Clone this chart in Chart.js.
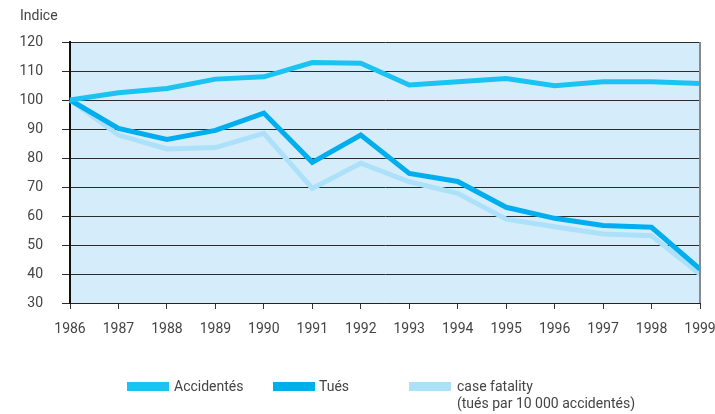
<style>
body { margin: 0; background: #fff; }
#wrap { position: relative; width: 715px; height: 414px; font-family: Roboto, "Open Sans", sans-serif; color: #444; }
#indice { position: absolute; left: 20px; top: 7px; font-size: 14px; }
.leg { position: absolute; font-size: 14px; line-height: 17px; }
.sw { position: absolute; width: 42px; height: 9px; }
</style>

<div id="wrap">
  <canvas id="myChart" width="715" height="414"></canvas>
  <div id="indice">Indice</div>
  <div id="legend"></div>
</div>

<script src="https://cdn.jsdelivr.net/npm/chart.js"></script>

<script>
const years = ['1986','1987','1988','1989','1990','1991','1992','1993','1994','1995','1996','1997','1998','1999'];
const accidentes = [100, 102.5, 104, 107.2, 108, 112.9, 112.7, 105.2, 106.3, 107.4, 104.9, 106.3, 106.3, 105.7];
const tues = [100, 90.2, 86.4, 89.5, 95.5, 78.5, 87.9, 74.7, 71.9, 63, 59.2, 56.7, 56.1, 41.7];
const caseFatality = [100, 87.9, 83.1, 83.6, 88.5, 69.5, 78.2, 71.8, 67.8, 58.9, 56.3, 53.8, 53.2, 40];
const legendNames = ['Accidentés', 'Tués', 'case fatality<br>(tués par 10 000 accidentés)'];
const colors = ['#1ac3f2', '#00aeef', '#ade1f9'];
const tickFont = { family: 'Roboto, "Open Sans", sans-serif', size: 14 };

// fill the plot area and draw the grey right border
const plotBg = {
  id: 'plotBg',
  beforeDraw(chart) {
    const a = chart.chartArea, c = chart.ctx;
    c.save();
    c.fillStyle = '#d5edfa';
    c.fillRect(a.left, a.top, a.right - a.left, a.bottom - a.top);
    c.restore();
  },
  afterDatasetsDraw(chart) {
    const a = chart.chartArea, c = chart.ctx;
    c.save();
    c.strokeStyle = '#8a8a8a';
    c.lineWidth = 2;
    c.beginPath();
    c.moveTo(a.right, a.top);
    c.lineTo(a.right, a.bottom);
    c.stroke();
    c.restore();
  }
};

const ctx = document.getElementById('myChart');
let chart = new Chart(ctx, {
  type: 'line',
  data: {
    labels: years,
    datasets: [
      { label: 'Accidentés', data: accidentes, borderColor: colors[0], order: 0 },
      { label: 'Tués', data: tues, borderColor: colors[1], order: 1 },
      { label: 'case fatality', data: caseFatality, borderColor: colors[2], order: 2 }
    ]
  },
  options: {
    responsive: false,
    animation: false,
    layout: { padding: { top: 42, right: 0, left: 0, bottom: 0 } },
    elements: {
      line: { borderWidth: 5, tension: 0, borderJoinStyle: 'miter', borderCapStyle: 'butt' },
      point: { radius: 0 }
    },
    plugins: { legend: { display: false }, tooltip: { enabled: false } },
    scales: {
      x: {
        offset: false,
        grid: { drawOnChartArea: false, drawTicks: true, tickLength: 6, color: '#333' },
        border: { color: '#222', width: 1 },
        ticks: { color: '#444', font: tickFont, padding: 12, maxRotation: 0, autoSkip: false },
        afterFit(s) { s.height = 111; s.paddingRight = 15; s.paddingLeft = 0; }
      },
      y: {
        min: 30, max: 120,
        grid: { color: '#2b2b2b', lineWidth: 1, tickLength: 8 },
        border: { color: '#111', width: 2 },
        ticks: { stepSize: 10, color: '#444', font: tickFont, padding: 19 },
        afterFit(s) { s.width = 70; }
      }
    }
  },
  plugins: [plotBg]
});

// legend below the chart
const legendPos = [[127, 174], [273, 319], [409, 457]];
const leg = document.getElementById('legend');
legendNames.forEach((n, i) => {
  const sw = document.createElement('div');
  sw.className = 'sw';
  sw.style.left = legendPos[i][0] + 'px';
  sw.style.top = '382px';
  sw.style.background = colors[i];
  leg.appendChild(sw);
  const t = document.createElement('div');
  t.className = 'leg';
  t.style.left = legendPos[i][1] + 'px';
  t.style.top = '378px';
  t.innerHTML = n;
  leg.appendChild(t);
});
</script>
